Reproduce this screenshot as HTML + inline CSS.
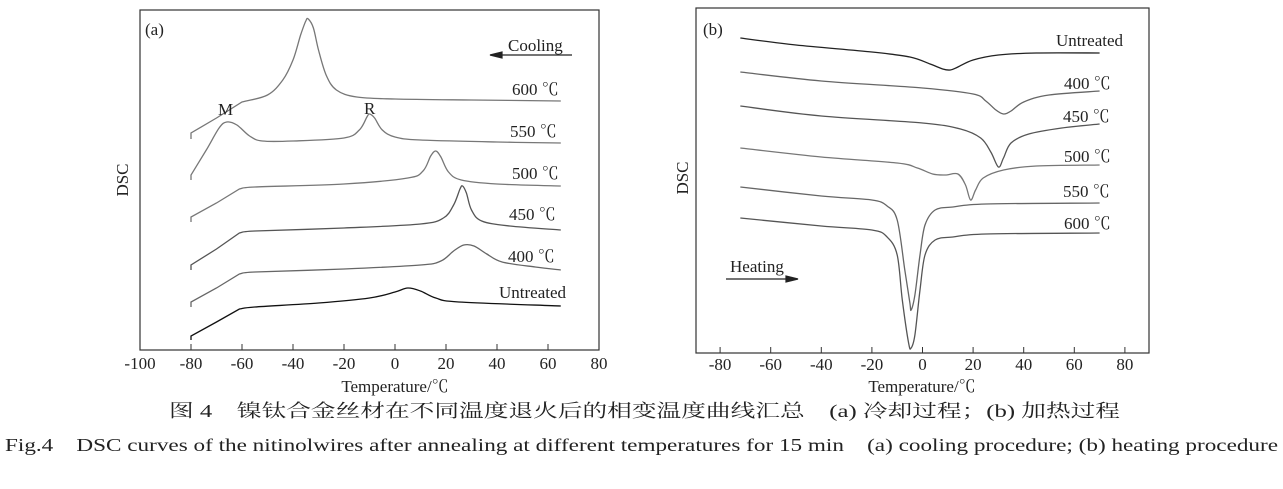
<!DOCTYPE html>
<html><head><meta charset="utf-8"><style>
html,body{margin:0;padding:0;background:#fff;}
svg{display:block;}
text{font-family:"Liberation Serif","Noto Serif CJK SC",serif;fill:#222;}
</style></head><body>
<svg id="s" width="1283" height="489" viewBox="0 0 1283 489" xmlns="http://www.w3.org/2000/svg">
<g fill="none" stroke="#333" stroke-width="1.2">
<rect x="140" y="10" width="459" height="340"/>
<rect x="696" y="8" width="453" height="345"/>
</g>
<g id="ticks" stroke="#333" stroke-width="1"></g>
<g id="curves" fill="none" stroke-width="1.3"></g>
<g font-size="17">
<text x="145" y="35">(a)</text>
<text x="508" y="51">Cooling</text>
<text x="218" y="115">M</text>
<text x="364" y="114">R</text>
<text x="512" y="95">600 ℃</text>
<text x="510" y="137">550 ℃</text>
<text x="512" y="179">500 ℃</text>
<text x="509" y="220">450 ℃</text>
<text x="508" y="262">400 ℃</text>
<text x="499" y="298">Untreated</text>
<text x="128" y="180" transform="rotate(-90 128 180)" text-anchor="middle">DSC</text>
<text x="395" y="392" text-anchor="middle">Temperature/℃</text>
<text x="703" y="35">(b)</text>
<text x="1056" y="46">Untreated</text>
<text x="1064" y="89">400 ℃</text>
<text x="1063" y="122">450 ℃</text>
<text x="1064" y="162">500 ℃</text>
<text x="1063" y="197">550 ℃</text>
<text x="1064" y="229">600 ℃</text>
<text x="730" y="272">Heating</text>
<text x="688" y="178" transform="rotate(-90 688 178)" text-anchor="middle">DSC</text>
<text x="922" y="392" text-anchor="middle">Temperature/℃</text>
</g>
<g stroke="#222" stroke-width="1.2" fill="#222">
<line x1="500" y1="55" x2="572" y2="55"/><polygon points="490,55 502,52 502,58"/>
<line x1="726" y1="279" x2="788" y2="279"/><polygon points="798,279 786,276 786,282"/>
</g>
<text x="169" y="417" font-size="18" textLength="951" lengthAdjust="spacingAndGlyphs">图 4　镍钛合金丝材在不同温度退火后的相变温度曲线汇总　(a) 冷却过程；(b) 加热过程</text>
<text x="5" y="451" font-size="18" textLength="1273" lengthAdjust="spacingAndGlyphs">Fig.4　DSC curves of the nitinolwires after annealing at different temperatures for 15 min　(a) cooling procedure; (b) heating procedure</text>
</svg>
<script>
var NS="http://www.w3.org/2000/svg";
function el(p,t,a,txt){var e=document.createElementNS(NS,t);for(var k in a)e.setAttribute(k,a[k]);if(txt!=null)e.textContent=txt;document.getElementById(p).appendChild(e);return e;}
var xa=function(t){return 140+(t+100)*2.55;};
for(var t=-100;t<=80;t+=20){var x=xa(t);el('ticks','line',{x1:x,y1:350,x2:x,y2:344});
 el('ticks','text',{x:x,y:369,'font-size':17,'text-anchor':'middle',stroke:'none'},String(t));}
var xb=function(t){return 922.5+t*2.53;};
for(var t=-80;t<=80;t+=20){var x=xb(t);el('ticks','line',{x1:x,y1:353,x2:x,y2:347});
 el('ticks','text',{x:x,y:370,'font-size':17,'text-anchor':'middle',stroke:'none'},String(t));}
function cr(pts){var d="M"+pts[0][0]+","+pts[0][1];
 for(var i=0;i<pts.length-1;i++){var p0=pts[i-1]||pts[i],p1=pts[i],p2=pts[i+1],p3=pts[i+2]||p2;
 if(p2[2]){d+="L"+p2[0].toFixed(1)+","+p2[1].toFixed(1);continue;}
 if(p1[2]){p0=[2*p1[0]-p2[0],2*p1[1]-p2[1]];}
 var c1=[p1[0]+(p2[0]-p0[0])/6,p1[1]+(p2[1]-p0[1])/6],c2=[p2[0]-(p3[0]-p1[0])/6,p2[1]-(p3[1]-p1[1])/6];
 d+="C"+c1[0].toFixed(1)+","+c1[1].toFixed(1)+" "+c2[0].toFixed(1)+","+c2[1].toFixed(1)+" "+p2[0].toFixed(1)+","+p2[1].toFixed(1);}
 return d;}
function curve(f,pts,col){el('curves','path',{d:cr(pts.map(function(p){return [f(p[0]),p[1],p[2]];})),stroke:col});}
var A=[
 [[[-80,139],[-80,133,1],[-70,118,1],[-60,102,1],[-50,95],[-44,80],[-40,60],[-37,35],[-35,21],[-34,19],[-32,28],[-30,50],[-27,75],[-23,90],[-15,97],[0,99],[30,100],[65,101]],'#777'],
 [[[-80,180],[-80,175,1],[-74,150],[-69,128],[-66,122],[-62,125],[-57,136],[-52,141],[-40,141],[-20,138],[-14,130],[-11,117],[-10,114],[-8,118],[-5,130],[0,137],[10,140],[40,142],[65,143]],'#777'],
 [[[-80,222],[-80,217,1],[-70,203,1],[-61,189,1],[-55,187],[-20,184],[5,178],[11,171],[14,156],[16,151],[18,157],[21,172],[26,180],[40,184],[65,186]],'#777'],
 [[[-80,270],[-80,265,1],[-70,249,1],[-61,233,1],[-55,231],[-20,228],[10,224],[19,218],[23,205],[25.5,189],[26.5,186],[28,193],[30,210],[34,221],[45,226],[65,230]],'#555'],
 [[[-80,307],[-80,302,1],[-70,288,1],[-61,274,1],[-55,272],[-20,269],[10,265],[18,261],[23,251],[27,245],[31,246],[36,254],[42,262],[55,267],[65,270]],'#666'],
 [[[-80,340],[-80,336,1],[-70,322,1],[-61,309,1],[-55,307],[-30,303],[-10,298],[0,292],[5,288],[10,291],[16,298],[25,302],[65,306]],'#111']
];
A.forEach(function(c){curve(xa,c[0],c[1]);});
var B=[
 [[[-72,38],[-50,45],[-20,52],[-5,57],[3,64],[8,69],[11,70],[14,67],[20,60],[30,55],[45,53],[70,53]],'#222'],
 [[[-72,72],[-40,81],[0,88],[20,94],[25,101],[29,110],[32,114],[35,111],[40,102],[50,95],[70,91]],'#666'],
 [[[-72,106],[-40,116],[0,123],[15,129],[23,138],[27,152],[30,167],[32,158],[35,143],[42,134],[55,128],[70,124]],'#555'],
 [[[-72,148],[-40,157],[-10,163],[-2,168],[4,174],[9,175],[14,174],[17,185],[19,200],[21,190],[24,178],[32,170],[45,166],[70,165]],'#777'],
 [[[-72,187],[-40,196],[-20,200],[-14,206],[-10,220],[-7,270],[-5,303],[-4.5,310],[-3,295],[-1,255],[1,225],[5,210],[12,207],[25,204],[70,203]],'#666'],
 [[[-72,218],[-40,226],[-20,230],[-14,237],[-10,255],[-8,300],[-5.5,343],[-4.5,348],[-3,335],[-1,290],[1,255],[5,240],[12,237],[25,234],[70,233]],'#555']
];
B.forEach(function(c){curve(xb,c[0],c[1]);});
</script>
</body></html>
